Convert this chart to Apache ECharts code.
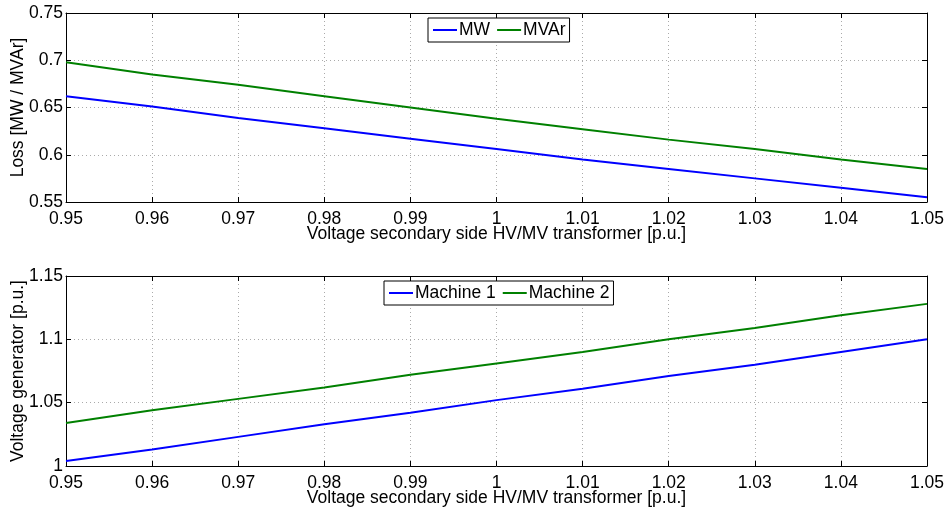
<!DOCTYPE html>
<html><head><meta charset="utf-8">
<script src="https://cdn.jsdelivr.net/npm/echarts@6/dist/echarts.min.js"></script>
<style>html,body{margin:0;padding:0;background:#fff}#c{width:949px;height:513px}</style>
</head><body><div id="c"></div>
<script>
const xVals = [0.95,0.96,0.97,0.98,0.99,1.00,1.01,1.02,1.03,1.04,1.05];
const lossMW   = [0.662,0.651,0.639,0.628,0.617,0.606,0.595,0.585,0.575,0.565,0.555];
const lossMVAr = [0.698,0.685,0.674,0.662,0.650,0.638,0.627,0.616,0.606,0.595,0.585];
const machine1 = [1.004,1.013,1.023,1.033,1.042,1.052,1.061,1.071,1.080,1.090,1.100];
const machine2 = [1.034,1.044,1.053,1.062,1.072,1.081,1.090,1.100,1.109,1.119,1.128];
const xName = 'Voltage secondary side HV/MV transformer [p.u.]';
const yName1 = 'Loss [MW / MVAr]';
const yName2 = 'Voltage generator [p.u.]';

const FONT = 'Liberation Sans';
const FS = 17.5;
const fmt = v => String(parseFloat(v.toFixed(3)));
const pair = arr => arr.map((v,i)=>[xVals[i], v]);

function xAx(gi, pos, labels) {
  return {
    type:'value', gridIndex:gi, position:pos, min:0.95, max:1.05, interval:0.01,
    name: labels ? xName : '', nameLocation:'middle', nameGap:23, nameMoveOverlap:false,
    nameTextStyle:{fontFamily:FONT, fontSize:FS, color:'#000'},
    axisLine:{show:true, onZero:false, lineStyle:{color:'#000', width:1}},
    axisTick:{show:true, inside:true, length:5, lineStyle:{color:'#000'}},
    axisLabel:{show:labels, formatter:fmt, fontFamily:FONT, fontSize:FS, color:'#000', margin:8},
    splitLine:{show:labels, lineStyle:{color:'#aaa', type:[1,3], width:1}}
  };
}
function yAx(gi, pos, labels, min, max, name) {
  return {
    type:'value', gridIndex:gi, position:pos, min:min, max:max, interval:0.05,
    name: labels ? name : '', nameLocation:'middle', nameGap:39, nameRotate:90, nameMoveOverlap:false,
    nameTextStyle:{fontFamily:FONT, fontSize:FS, color:'#000'},
    axisLine:{show:true, onZero:false, lineStyle:{color:'#000', width:1}},
    axisTick:{show:true, inside:true, length:5, lineStyle:{color:'#000'}},
    axisLabel:{show:labels, formatter:fmt, fontFamily:FONT, fontSize:FS, color:'#000', margin:3},
    splitLine:{show:labels, lineStyle:{color:'#aaa', type:[1,3], width:1}}
  };
}
const lineS = (name, data, color, xi, yi) => ({
  name, type:'line', data, xAxisIndex:xi, yAxisIndex:yi, symbol:'none',
  lineStyle:{color, width:2}, itemStyle:{color}, animation:false
});
const legendBase = {
  orient:'horizontal', itemGap:6, itemWidth:24, itemHeight:2,
  borderColor:'#000', borderWidth:1, padding:[3,4,3,4], backgroundColor:'#fff',
  textStyle:{fontFamily:FONT, fontSize:FS, color:'#000', padding:[0,0,0,-3]}
};

const chart = echarts.init(document.getElementById('c'), null, {renderer:'canvas'});
chart.setOption({
  animation:false,
  backgroundColor:'#fff',
  grid:[
    {left:66, right:22, top:13, height:189, containLabel:false, outerBoundsMode:'none'},
    {left:66, right:22, top:276, height:190, containLabel:false, outerBoundsMode:'none'}
  ],
  xAxis:[xAx(0,'bottom',true), xAx(0,'top',false), xAx(1,'bottom',true), xAx(1,'top',false)],
  yAxis:[yAx(0,'left',true,0.55,0.75,yName1), yAx(0,'right',false,0.55,0.75,''),
         yAx(1,'left',true,1.0,1.15,yName2), yAx(1,'right',false,1.0,1.15,'')],
  legend:[
    Object.assign({}, legendBase, {data:['MW','MVAr'], left:428, top:18}),
    Object.assign({}, legendBase, {data:['Machine 1','Machine 2'], left:384, top:281})
  ],
  series:[
    lineS('MW', pair(lossMW), '#0000ff', 0, 0),
    lineS('MVAr', pair(lossMVAr), '#008000', 0, 0),
    lineS('Machine 1', pair(machine1), '#0000ff', 2, 2),
    lineS('Machine 2', pair(machine2), '#008000', 2, 2)
  ]
});
</script></body></html>
